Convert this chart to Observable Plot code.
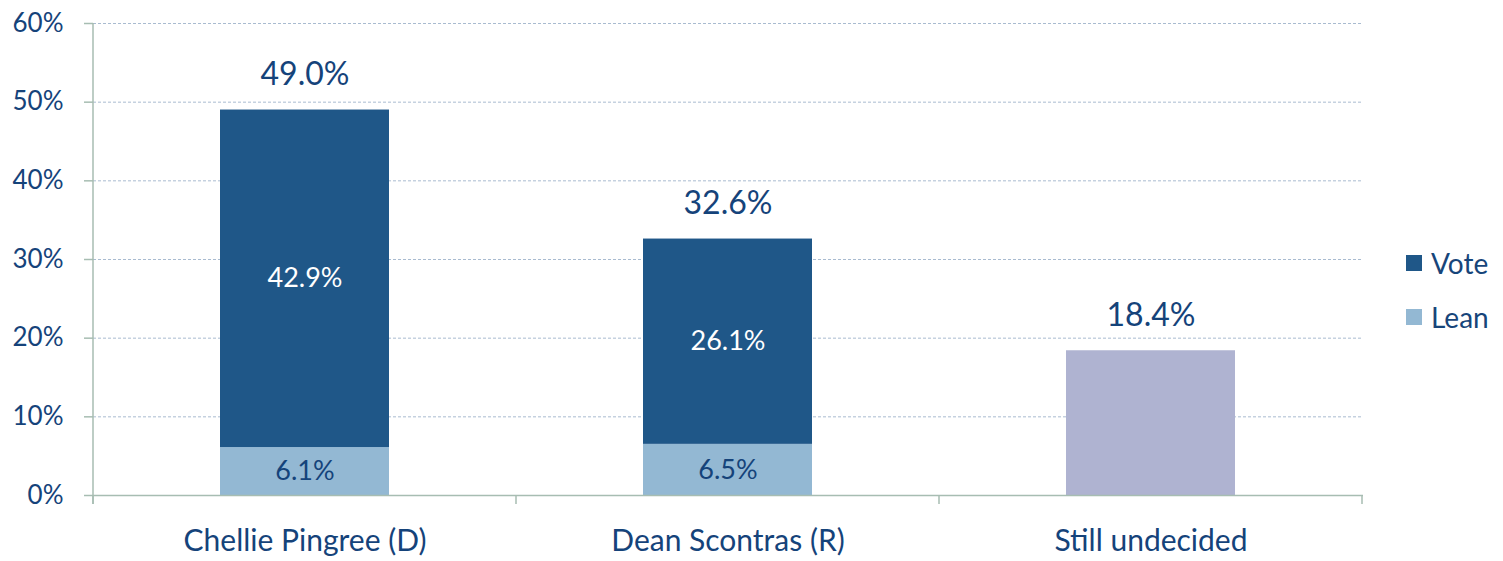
<!DOCTYPE html>
<html><head><meta charset="utf-8">
<script src="https://cdn.jsdelivr.net/npm/d3@7"></script>
<script src="https://cdn.jsdelivr.net/npm/@observablehq/plot@0.6"></script>
<style>
body{margin:0;background:#fff;}
#wrap{position:relative;width:1503px;height:561px;font-family:Lato, sans-serif;}
.legend{position:absolute;left:1406px;top:248px;color:#17457A;font-size:28px;font-family:Lato, sans-serif;}
.item{display:flex;align-items:center;height:30px;margin-bottom:24px}
.sw{width:16px;height:16px;margin-right:9px}
</style></head>
<body><div id="wrap"></div>
<script>
const categories = ["Chellie Pingree (D)", "Dean Scontras (R)", "Still undecided"];
const series = ["Lean", "Vote", "Undecided"];
const lean = [6.1, 6.5, null];
const vote = [42.9, 26.1, null];
const undecided = [null, null, 18.4];
const totals = [49.0, 32.6, 18.4];
const yTicks = [0, 10, 20, 30, 40, 50, 60];
const seriesColors = ["#93B8D3", "#1F5788", "#AFB3D1"];
const legendItems = ["Vote", "Lean"];

const navy = "#15437A";
const axisColor = "#A7BDB2";
const gridColor = "#A9BBD0";

const rows = [];
categories.forEach((c, i) => {
  if (lean[i] != null) rows.push({cat: c, series: "Lean", value: lean[i]});
  if (vote[i] != null) rows.push({cat: c, series: "Vote", value: vote[i]});
  if (undecided[i] != null) rows.push({cat: c, series: "Undecided", value: undecided[i]});
});
const totalRows = categories.map((c, i) => ({cat: c, total: totals[i]}));
const fmt = v => v.toFixed(1) + "%";

const W = 1503, H = 561, mL = 93, mT = 23, mB = 66, mR = 140;

const frameLines = (index, scales) => {
  const x = scales.x;
  const bw = x.bandwidth ? x.bandwidth() : 0;
  const step = x.step ? x.step() : bw;
  const gap = (step - bw) / 2;
  const edges = categories.map(c => x(c) - gap).concat([x(categories[categories.length - 1]) + bw + gap]);
  const g = d3.create("svg:g").attr("stroke", axisColor).attr("stroke-width", 1.5);
  g.selectAll("line.t").data(edges).join("line")
    .attr("x1", d => d).attr("x2", d => d)
    .attr("y1", H - mB).attr("y2", H - mB + 9);
  g.append("line").attr("x1", mL).attr("x2", mL).attr("y1", mT).attr("y2", H - mB + 9);
  return g.node();
};

const chart = Plot.plot({
  width: W, height: H,
  marginLeft: mL, marginTop: mT, marginBottom: mB, marginRight: mR,
  style: {fontFamily: "Lato, sans-serif", background: "white"},
  x: {domain: categories, paddingInner: 0.6, paddingOuter: 0.3, label: null},
  y: {domain: [0, 60], label: null},
  color: {domain: series, range: seriesColors},
  marks: [
    Plot.gridY(yTicks.slice(1), {stroke: gridColor, strokeOpacity: 1, strokeDasharray: "3,2", strokeWidth: 1}),
    Plot.barY(rows, {x: "cat", y: "value", fill: "series"}),
    Plot.text(rows.filter(d => d.series !== "Undecided"), Plot.stackY({
      x: "cat", y: "value", z: "series", text: d => d.series === "Lean" ? fmt(d.value) : "",
      fill: navy, fontSize: 27
    })),
    Plot.text(rows.filter(d => d.series !== "Undecided"), Plot.stackY({
      x: "cat", y: "value", z: "series", text: d => d.series === "Vote" ? fmt(d.value) : "",
      fill: "white", fontSize: 27
    })),
    Plot.text(totalRows, {x: "cat", y: "total", text: d => fmt(d.total), dy: -35, fill: navy, fontSize: 32}),
    Plot.axisY(yTicks, {tickSize: 9, tickPadding: 21, tickFormat: d => d + "%", fontSize: 26, stroke: axisColor, strokeWidth: 1.5, fill: navy, label: null}),
    Plot.axisX({tickSize: 0, tickPadding: 34, fontSize: 30, fill: navy, label: null}),
    Plot.ruleY([0], {stroke: axisColor, strokeWidth: 1.5}),
    frameLines
  ]
});

const wrap = document.getElementById("wrap");
wrap.appendChild(chart);
const leg = document.createElement("div");
leg.className = "legend";
legendItems.forEach(name => {
  const it = document.createElement("div");
  it.className = "item";
  const sw = document.createElement("span");
  sw.className = "sw";
  sw.style.background = seriesColors[series.indexOf(name)];
  const tx = document.createElement("span");
  tx.textContent = name;
  it.appendChild(sw); it.appendChild(tx);
  leg.appendChild(it);
});
wrap.appendChild(leg);
</script>
</body></html>
